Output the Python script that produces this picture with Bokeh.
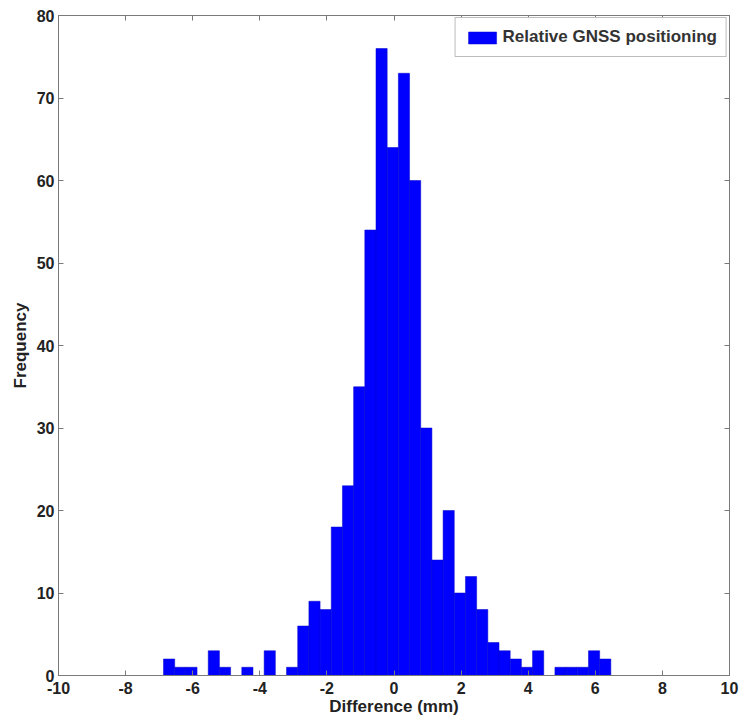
from bokeh.plotting import figure
from bokeh.models import FixedTicker, LinearAxis, Range1d, Legend, LegendItem
from bokeh.embed import file_html
from bokeh.resources import INLINE

# Histogram data
bin_start = -6.87
bin_width = 1.0 / 3.0
counts = [2, 1, 1, 0, 3, 1, 0, 1, 0, 3,
          0, 1, 6, 9, 8, 18, 23, 35, 54, 76,
          64, 73, 60, 30, 14, 20, 10, 12, 8, 4,
          3, 2, 1, 3, 0, 1, 1, 1, 3, 2]
x_ticks = [-10, -8, -6, -4, -2, 0, 2, 4, 6, 8, 10]
x_tick_labels = ["-10", "-8", "-6", "-4", "-2", "0", "2", "4", "6", "8", "10"]
y_ticks = [0, 10, 20, 30, 40, 50, 60, 70, 80]
series_name = "Relative GNSS positioning"
x_label = "Difference (mm)"
y_label = "Frequency"

lefts = [bin_start + i * bin_width for i in range(len(counts))]
rights = [l + bin_width for l in lefts]
bottoms = [0] * len(counts)

FONT = "Liberation Sans"
AXIS_COLOR = "#7a7a7a"
TEXT_COLOR = "#222222"

p = figure(width=739, height=721, output_backend="svg", toolbar_location=None,
           x_range=Range1d(-10, 10), y_range=Range1d(0, 80),
           min_border_left=58, min_border_right=10, min_border_top=15,
           min_border_bottom=46)
p.xgrid.visible = False
p.ygrid.visible = False
p.outline_line_color = AXIS_COLOR
p.background_fill_color = "white"
p.border_fill_color = "white"

r = p.quad(left=lefts, right=rights, bottom=bottoms, top=counts,
           fill_color="#0000FF", line_color="#0000C8", line_width=0.5)

def style_axis(ax):
    ax.axis_line_color = AXIS_COLOR
    ax.major_tick_line_color = AXIS_COLOR
    ax.major_tick_in = 5
    ax.major_tick_out = 0
    ax.minor_tick_line_color = None
    ax.major_label_text_font = FONT
    ax.major_label_text_font_style = "bold"
    ax.major_label_text_font_size = "16px"
    ax.major_label_text_color = TEXT_COLOR
    ax.axis_label_text_font = FONT
    ax.axis_label_text_font_style = "bold"
    ax.axis_label_text_font_size = "17px"
    ax.axis_label_text_color = TEXT_COLOR

xa = p.xaxis[0]
ya = p.yaxis[0]
xa.ticker = FixedTicker(ticks=x_ticks)
ya.ticker = FixedTicker(ticks=y_ticks)
style_axis(xa)
style_axis(ya)
xa.major_label_overrides = {t: s for t, s in zip(x_ticks, x_tick_labels)}
xa.axis_label = x_label
ya.axis_label = y_label
xa.axis_label_standoff = 0
ya.axis_label_standoff = 4
xa.major_label_standoff = 6
ya.major_label_standoff = 4

top_ax = LinearAxis(ticker=FixedTicker(ticks=x_ticks))
style_axis(top_ax)
top_ax.major_label_overrides = {t: "" for t in x_ticks}
top_ax.major_label_text_font_size = "1px"
top_ax.major_label_standoff = 0
p.add_layout(top_ax, "above")

right_ax = LinearAxis(ticker=FixedTicker(ticks=y_ticks))
style_axis(right_ax)
right_ax.major_label_overrides = {t: "" for t in y_ticks}
right_ax.major_label_text_font_size = "1px"
right_ax.major_label_standoff = 0
p.add_layout(right_ax, "right")

legend = Legend(items=[LegendItem(label=series_name, renderers=[r])],
                location="top_right")
legend.label_text_font = FONT
legend.label_text_font_style = "bold"
legend.label_text_font_size = "17px"
legend.label_text_color = "#333333"
legend.glyph_width = 35
legend.glyph_height = 15
legend.border_line_color = AXIS_COLOR
legend.margin = 2
legend.padding = 9
legend.label_standoff = 3
p.add_layout(legend)

open("out.html", "w").write(file_html(p, INLINE))
